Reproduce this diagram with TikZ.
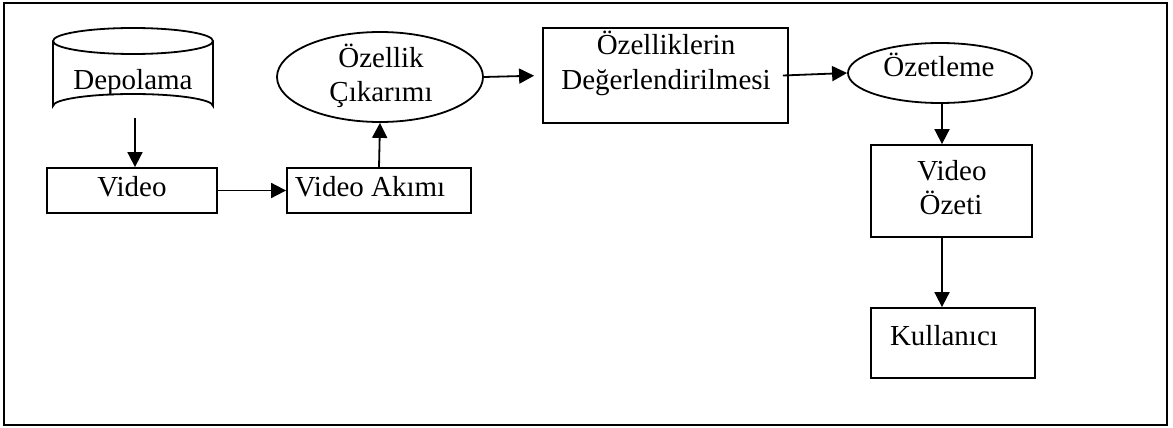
\documentclass[tikz,border=0pt]{standalone}
\usepackage{fontspec}
\setmainfont{Liberation Serif}
\usetikzlibrary{shapes.geometric,arrows.meta}
\begin{document}
\begin{tikzpicture}[x=1pt,y=-1pt,
  box/.style={draw,line width=1.8pt,rectangle,inner sep=0pt},
  oval/.style={draw,line width=1.8pt,ellipse,inner sep=0pt},
  txt/.style={anchor=base,inner sep=0pt,font=\fontsize{29}{34}\selectfont},
  arr/.style={line width=1.8pt,-{Triangle[length=15pt,width=15pt]}}]
\useasboundingbox (0,0) rectangle (1173,428);
\draw[line width=1.6pt] (4,3) rectangle (1167,425);
% cylinder
\draw[line width=1.8pt] (53,41) -- (53,106) arc[start angle=180,end angle=360,x radius=80,y radius=12] -- (213,41);
\draw[line width=1.8pt] (133,41) ellipse[x radius=80,y radius=13];
\coordinate (depb) at (135,118);
\node[txt] (depT) at (133,89) {Depolama};
% boxes
\node[box,minimum width=170,minimum height=45] (video) at (132,190.5) {};
\node[txt] (videoT) at (132,196) {Video};
\node[box,minimum width=184,minimum height=45] (akim) at (379,190.5) {};
\node[txt] (akimT) at (370,196) {Video Akımı};
\node[oval,minimum width=206,minimum height=90] (ozel) at (380,77) {};
\node[txt] (ozelT1) at (381,68) {Özellik};
\node[txt] (ozelT2) at (381,101) {Çıkarımı};
\node[box,minimum width=245,minimum height=95] (ozb) at (665.5,75.5) {};
\node[txt] (ozbT1) at (666,55) {Özelliklerin};
\node[txt] (ozbT2) at (666,89) {Değerlendirilmesi};
\node[oval,minimum width=184,minimum height=60] (ozet) at (940,73) {};
\node[txt] (ozetT) at (939,77) {Özetleme};
\node[box,minimum width=161,minimum height=92] (vozet) at (951.5,191) {};
\node[txt] (vozetT1) at (952,180) {Video};
\node[txt] (vozetT2) at (951,214) {Özeti};
\node[box,minimum width=164,minimum height=70] (kul) at (953,343) {};
\node[txt] (kulT) at (944,345) {Kullanıcı};
% connectors
\draw[arr] (depb) -- (depb |- video.north);
\draw[arr] (video.east) -- (akim.west);
\draw[arr] (akim.north) -- (ozel.south);
\draw[arr,shorten >=8pt] (ozel.east) -- (ozb.west);
\draw[arr] ([xshift=-6pt]ozb.east) -- (ozet.west);
\draw[arr] ([xshift=2pt]ozet.south) -- ([xshift=2pt]ozet.south |- vozet.north);
\draw[arr] ([xshift=2pt]ozet.south |- vozet.south) -- ([xshift=2pt]ozet.south |- kul.north);
\end{tikzpicture}
\end{document}
